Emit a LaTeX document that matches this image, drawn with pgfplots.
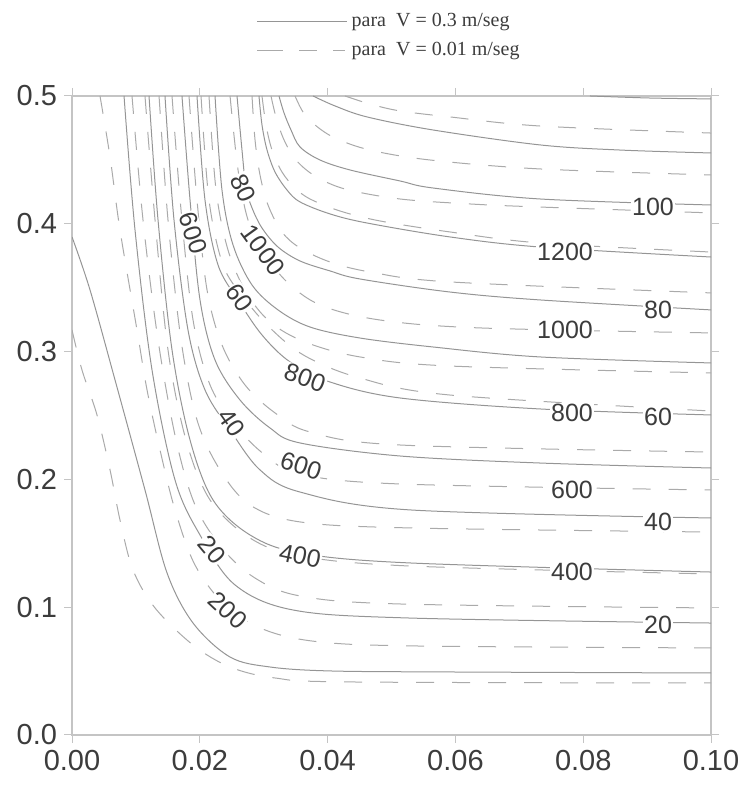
\documentclass[border=0pt]{standalone}
\usepackage{fontspec}
\setmainfont{Liberation Serif}
\setsansfont{Liberation Sans}
\usepackage{pgfplots}
\pgfplotsset{compat=1.18}

\definecolor{boxgray}{HTML}{C4C4C4}
\definecolor{solgray}{HTML}{959595}
\definecolor{dashgray}{HTML}{AAAAAA}
\definecolor{txtgray}{HTML}{3C3C3C}

\pgfplotsset{
  solidc/.style={color=solgray, line width=0.5pt, smooth, tension=0.55, mark=none, forget plot},
  dashc/.style={color=dashgray, line width=0.5pt, dash pattern=on 9pt off 9pt, smooth, tension=0.55, mark=none, forget plot},
}
\tikzset{clab/.style={font=\sffamily\fontsize{12.5}{12.5}\selectfont, text=txtgray, fill=white, inner sep=0.5pt}}

\begin{document}
\begin{tikzpicture}
\begin{axis}[
  width=319.5pt, height=319.5pt, scale only axis,
  xmin=0, xmax=0.1, ymin=0, ymax=0.5,
  xtick={0,0.02,0.04,0.06,0.08,0.1},
  ytick={0,0.1,0.2,0.3,0.4,0.5},
  scaled x ticks=false, scaled y ticks=false,
  xticklabel style={/pgf/number format/.cd, fixed, fixed zerofill, precision=2},
  yticklabel style={/pgf/number format/.cd, fixed, fixed zerofill, precision=1},
  /pgf/number format/assume math mode=true,
  every tick label/.append style={font=\sffamily\fontsize{14.5}{14.5}\selectfont, text=txtgray},
  tick align=outside, major tick length=4pt,
  tick style={boxgray, line width=0.5pt},
  axis line style={boxgray, line width=0.6pt},
  legend style={draw=none, fill=none, at={(0.279,1.142)}, anchor=north west,
    font=\rmfamily\fontsize{10}{12}\selectfont, text=txtgray, row sep=2pt},
  legend cell align=left,
  legend image code/.code={\draw[#1] (0pt,0pt) -- (45pt,0pt);},
]
\addlegendimage{color=solgray, line width=0.5pt}
\addlegendentry{para\ \ V = 0.3 m/seg}
\addlegendimage{color=dashgray, line width=0.5pt, dash pattern=on 13pt off 8pt on 9pt off 8pt on 6pt}
\addlegendentry{para\ \ V = 0.01 m/seg}

% ---- V = 0.3 m/seg (solid)
\addplot[solidc] coordinates {(0,0.3897) (0.00282,0.3482) (0.00673,0.2778) (0.01142,0.1917) (0.01487,0.1268) (0.01894,0.0876) (0.02473,0.0610) (0.03099,0.0532) (0.04038,0.0501) (0.05915,0.0493) (0.1,0.0485)};
\addplot[solidc] coordinates {(0.00814,0.5) (0.00986,0.3951) (0.01252,0.2856) (0.01612,0.1995) (0.02003,0.1565) (0.02551,0.1174) (0.03459,0.0978) (0.05290,0.0915) (0.1,0.0876)};
\addplot[solidc] coordinates {(0.01205,0.5) (0.01346,0.4030) (0.01565,0.3013) (0.01847,0.2308) (0.02207,0.1839) (0.02786,0.1565) (0.03568,0.1424) (0.05290,0.1346) (0.1,0.1275)};
\addplot[solidc] coordinates {(0.01455,0.5) (0.01596,0.4030) (0.01815,0.3169) (0.02081,0.2700) (0.02473,0.2387) (0.02942,0.2074) (0.03568,0.1901) (0.05290,0.1761) (0.1,0.1698)};
\addplot[solidc] coordinates {(0.01721,0.5) (0.01847,0.4186) (0.02003,0.3404) (0.02238,0.2934) (0.02629,0.2621) (0.03099,0.2402) (0.03568,0.2285) (0.05133,0.2183) (0.07324,0.2128) (0.1,0.2089)};
\addplot[solidc] coordinates {(0.01956,0.5) (0.02081,0.4186) (0.02285,0.3678) (0.02598,0.3404) (0.02973,0.3130) (0.03412,0.2919) (0.04038,0.2762) (0.05133,0.2637) (0.07324,0.2551) (0.1,0.2504)};
\addplot[solidc] coordinates {(0.02238,0.5) (0.02347,0.4264) (0.02520,0.3834) (0.02817,0.3521) (0.03224,0.3326) (0.03725,0.3192) (0.04507,0.3106) (0.05649,0.3036) (0.07324,0.2958) (0.1,0.2911)};
\addplot[solidc] coordinates {(0.02582,0.5) (0.02660,0.4577) (0.02723,0.4280) (0.02817,0.4124) (0.02973,0.3967) (0.03224,0.3818) (0.03568,0.3709) (0.04038,0.3631) (0.04507,0.3568) (0.05915,0.3466) (0.07324,0.3404) (0.1,0.3326)};
\addplot[solidc] coordinates {(0.02926,0.5) (0.02973,0.4773) (0.03052,0.4577) (0.03177,0.4405) (0.03365,0.4264) (0.03568,0.4171) (0.04038,0.4077) (0.04617,0.4006) (0.05915,0.3897) (0.07324,0.3818) (0.1,0.3740)};
\addplot[solidc] coordinates {(0.03239,0.5) (0.03318,0.4867) (0.03427,0.4734) (0.03568,0.4601) (0.03881,0.4499) (0.04351,0.4421) (0.05133,0.4335) (0.05649,0.4280) (0.07324,0.4194) (0.1,0.4147)};
\addplot[solidc] coordinates {(0.03772,0.5) (0.04116,0.4922) (0.04617,0.4836) (0.05649,0.4734) (0.07324,0.4617) (0.08576,0.4577) (0.1,0.4554)};
\addplot[solidc] coordinates {(0.08106,0.5) (0.09045,0.4984) (0.1,0.4977)};

% ---- V = 0.01 m/seg (dashed)
\addplot[dashc] coordinates {(0,0.3169) (0.00156,0.2856) (0.00391,0.2504) (0.00595,0.2074) (0.00751,0.1682) (0.00955,0.1291) (0.01299,0.0994) (0.01894,0.0704) (0.02473,0.0532) (0.03177,0.0446) (0.04351,0.0415) (0.1,0.0407)};
\addplot[dashc] coordinates {(0.00438,0.5) (0.00595,0.4523) (0.00751,0.3951) (0.01017,0.3169) (0.01174,0.2700) (0.01377,0.2230) (0.01612,0.1761) (0.01925,0.1330) (0.02394,0.1017) (0.03020,0.0822) (0.03881,0.0728) (0.05446,0.0696) (0.1,0.0681)};
\addplot[dashc] coordinates {(0.00939,0.5) (0.01111,0.4030) (0.01346,0.3091) (0.01628,0.2308) (0.01925,0.1800) (0.02347,0.1463) (0.02864,0.1228) (0.03568,0.1088) (0.05133,0.1025) (0.1,0.0994)};
\addplot[dashc] coordinates {(0.01142,0.5) (0.01299,0.4030) (0.01502,0.3013) (0.01784,0.2308) (0.02160,0.1839) (0.02786,0.1541) (0.03568,0.1401) (0.05290,0.1322) (0.1,0.1260)};
\addplot[dashc] coordinates {(0.01362,0.5) (0.01502,0.4030) (0.01706,0.3091) (0.01956,0.2465) (0.02316,0.2074) (0.02786,0.1800) (0.03568,0.1667) (0.05290,0.1620) (0.1,0.1588)};
\addplot[dashc] coordinates {(0.01565,0.5) (0.01706,0.4108) (0.01894,0.3247) (0.02160,0.2739) (0.02551,0.2426) (0.03020,0.2191) (0.03568,0.2042) (0.05133,0.1964) (0.1,0.1917)};
\addplot[dashc] coordinates {(0.01831,0.5) (0.01956,0.4186) (0.02113,0.3482) (0.02347,0.3052) (0.02707,0.2739) (0.03177,0.2520) (0.03725,0.2371) (0.05133,0.2269) (0.1,0.2214)};
\addplot[dashc] coordinates {(0.02019,0.5) (0.02144,0.4186) (0.02363,0.3678) (0.02692,0.3419) (0.03099,0.3185) (0.03646,0.2966) (0.04507,0.2793) (0.05915,0.2660) (0.1,0.2535)};
\addplot[dashc] coordinates {(0.02144,0.5) (0.02254,0.4264) (0.02441,0.3795) (0.02723,0.3466) (0.03099,0.3232) (0.03646,0.3075) (0.04507,0.2958) (0.05915,0.2887) (0.1,0.2833)};
\addplot[dashc] coordinates {(0.02473,0.5) (0.02598,0.4421) (0.02754,0.4030) (0.02989,0.3795) (0.03333,0.3560) (0.03881,0.3365) (0.04820,0.3247) (0.06385,0.3185) (0.1,0.3146)};
\addplot[dashc] coordinates {(0.02817,0.5) (0.02864,0.4656) (0.02942,0.4382) (0.03067,0.4147) (0.03286,0.3936) (0.03568,0.3811) (0.04038,0.3701) (0.04664,0.3623) (0.05915,0.3545) (0.1,0.3459)};
\addplot[dashc] coordinates {(0.02973,0.5) (0.03036,0.4773) (0.03130,0.4577) (0.03286,0.4405) (0.03490,0.4280) (0.03725,0.4194) (0.04194,0.4100) (0.04820,0.4022) (0.05915,0.3936) (0.07324,0.3850) (0.1,0.3779)};
\addplot[dashc] coordinates {(0.03114,0.5) (0.03192,0.4836) (0.03318,0.4656) (0.03505,0.4499) (0.03803,0.4374) (0.04272,0.4272) (0.05133,0.4194) (0.06228,0.4155) (0.07324,0.4131) (0.1,0.4085)};
\addplot[dashc] coordinates {(0.03490,0.5) (0.03615,0.4875) (0.03803,0.4773) (0.04116,0.4671) (0.04664,0.4577) (0.05603,0.4499) (0.07324,0.4429) (0.1,0.4382)};
\addplot[dashc] coordinates {(0.04272,0.5) (0.04664,0.4937) (0.05133,0.4883) (0.05915,0.4836) (0.07324,0.4765) (0.1,0.4710)};

% ---- contour labels, inner region
\node[clab, rotate=-65] at (axis cs:0.02676,0.4280) {80};
\node[clab, rotate=-72] at (axis cs:0.01894,0.3928) {600};
\node[clab, rotate=-54] at (axis cs:0.02989,0.3795) {1000};
\node[clab, rotate=-55] at (axis cs:0.02629,0.3419) {60};
\node[clab, rotate=-20] at (axis cs:0.03646,0.2793) {800};
\node[clab, rotate=-55] at (axis cs:0.02504,0.2441) {40};
\node[clab, rotate=-18] at (axis cs:0.03584,0.2105) {600};
\node[clab, rotate=-12] at (axis cs:0.03568,0.1401) {400};
\node[clab, rotate=-50] at (axis cs:0.02190,0.1450) {20};
\node[clab, rotate=-43] at (axis cs:0.02440,0.0975) {200};
% ---- contour labels, right side
\node[clab] at (axis cs:0.09092,0.4131) {100};
\node[clab] at (axis cs:0.07715,0.3779) {1200};
\node[clab] at (axis cs:0.09171,0.3326) {80};
\node[clab] at (axis cs:0.07715,0.3169) {1000};
\node[clab] at (axis cs:0.07825,0.2520) {800};
\node[clab] at (axis cs:0.09171,0.2488) {60};
\node[clab] at (axis cs:0.07825,0.1917) {600};
\node[clab] at (axis cs:0.09171,0.1667) {40};
\node[clab] at (axis cs:0.07825,0.1275) {400};
\node[clab] at (axis cs:0.09171,0.0861) {20};

\coordinate (bbsw) at (rel axis cs:-0.1127,-0.0861);
\coordinate (bbne) at (rel axis cs:1.0532,1.1502);
\end{axis}
\path (bbsw) rectangle (bbne);
\end{tikzpicture}
\end{document}
